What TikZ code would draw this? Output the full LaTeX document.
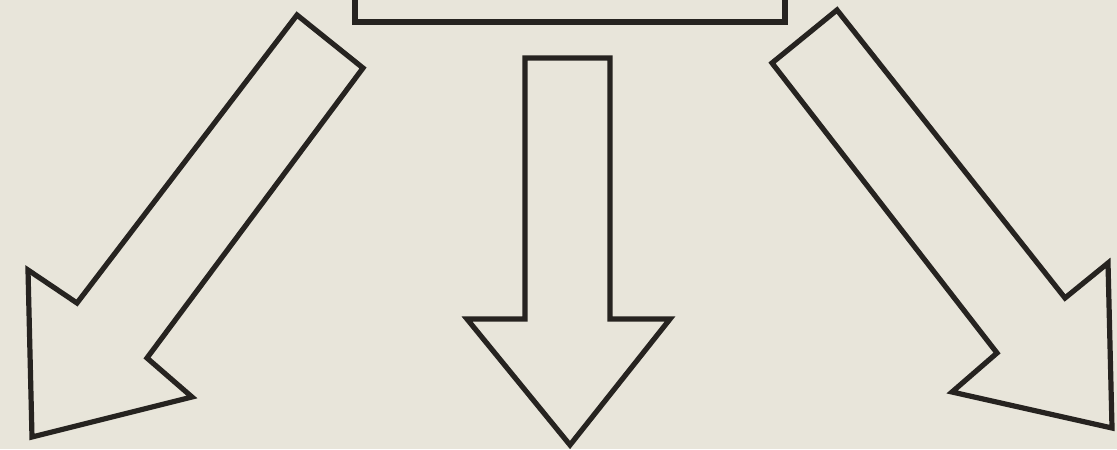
\documentclass[tikz,border=0pt]{standalone}
\usepackage{tikz}
\definecolor{paper}{RGB}{232,229,218}
\definecolor{ink}{RGB}{38,35,32}
\tikzset{blockarrow/.style={draw=ink, line width=2.6pt, line join=miter, fill=paper}}

\begin{document}
\begin{tikzpicture}[x=0.5pt, y=-0.5pt]
  \useasboundingbox (0,0) rectangle (1117,449);
  \clip (0,0) rectangle (1117,449);
  \fill[paper] (0,0) rectangle (1117,449);
  % source box, cut by the top edge
  \draw[blockarrow] (355,-40) rectangle (785,22);
  % three block arrows
  \draw[blockarrow] (297,15) -- (363,68) -- (147,358) -- (192,397) -- (32,437) -- (28,270) -- (77,303) -- cycle;
  \draw[blockarrow] (525,58) -- (610,58) -- (610,319) -- (670,319) -- (570,445) -- (467,319) -- (525,319) -- cycle;
  \draw[blockarrow] (837,10) -- (772,63) -- (997,353) -- (952,392) -- (1112,428) -- (1108,263) -- (1065,298) -- cycle;
\end{tikzpicture}
\end{document}
